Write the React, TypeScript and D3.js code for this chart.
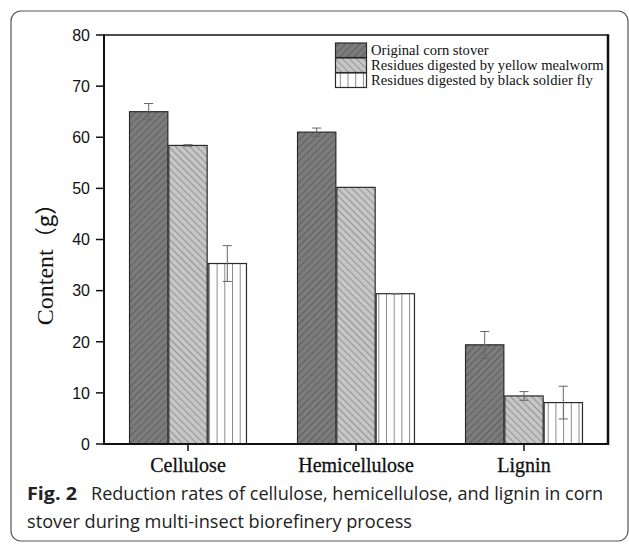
import React from "react";
import * as d3 from "d3";

const categories = ["Cellulose", "Hemicellulose", "Lignin"];
const seriesNames = [
  "Original corn stover",
  "Residues digested by yellow mealworm",
  "Residues digested by black soldier fly",
];
const originalValues = [65.0, 61.0, 19.4];
const mealwormValues = [58.4, 50.2, 9.4];
const soldierFlyValues = [35.3, 29.4, 8.1];
const originalErrors = [1.6, 0.8, 2.6];
const mealwormErrors = [0.15, 0, 0.85];
const soldierFlyErrors = [3.5, 0.05, 3.2];
const yTicks = [0, 10, 20, 30, 40, 50, 60, 70, 80];
const captionBold = "Fig. 2";
const captionLine1 = "Reduction rates of cellulose, hemicellulose, and lignin in corn";
const captionLine2 = "stover during multi-insect biorefinery process";

const W = 629;
const H = 544;
const left = 104;
const right = 608;
const top = 35;
const bottom = 444;

const seriesValues = [originalValues, mealwormValues, soldierFlyValues];
const seriesErrors = [originalErrors, mealwormErrors, soldierFlyErrors];
const patternIds = ["pat-orig", "pat-meal", "pat-fly"];

export default function App() {
  const x0 = d3.scaleBand<string>().domain(categories).range([left, right]).paddingInner(0.298).paddingOuter(0.149);
  const x1 = d3.scaleBand<string>().domain(seriesNames).range([0, x0.bandwidth()]).padding(0);
  const y = d3.scaleLinear().domain([0, 80]).range([bottom, top]);

  const serif = "'Liberation Serif', 'Times New Roman', serif";
  const sans = "'Liberation Sans', Arial, sans-serif";
  const capFont = "'Open Sans', 'Noto Sans', sans-serif";

  return (
    <svg width={W} height={H} style={{ position: "absolute", left: 0, top: 0, background: "#fff" }}>
      <defs>
        <pattern id="pat-orig" patternUnits="userSpaceOnUse" width={5} height={5} patternTransform="rotate(45)">
          <rect width={5} height={5} fill="#7c7c7c" />
          <line x1={0} y1={0} x2={0} y2={5} stroke="#4a4a4a" strokeWidth={1.2} />
        </pattern>
        <pattern id="pat-meal" patternUnits="userSpaceOnUse" width={5} height={5} patternTransform="rotate(-45)">
          <rect width={5} height={5} fill="#c6c6c6" />
          <line x1={0} y1={0} x2={0} y2={5} stroke="#6a6a6a" strokeWidth={1.1} />
        </pattern>
        <pattern id="pat-fly" patternUnits="userSpaceOnUse" width={7.7} height={10} x={1}>
          <rect width={7.7} height={10} fill="#ffffff" />
          <line x1={0.5} y1={0} x2={0.5} y2={10} stroke="#8a8a8a" strokeWidth={1} />
        </pattern>
      </defs>

      {/* outer frame */}
      <rect x={11} y={11} width={617} height={530} rx={10} ry={10} fill="none" stroke="#555" strokeWidth={1.2} />

      {/* bars */}
      {categories.map((c, ci) => (
        <g key={c}>
          {seriesNames.map((s, si) => {
            const bx = (x0(c) as number) + (x1(s) as number);
            const bw = x1.bandwidth();
            const v = seriesValues[si][ci];
            return (
              <rect
                key={s}
                x={bx + 0.5}
                y={y(v)}
                width={bw - 1}
                height={bottom - y(v)}
                fill={`url(#${patternIds[si]})`}
                stroke="#2a2a2a"
                strokeWidth={1.2}
              />
            );
          })}
        </g>
      ))}

      {/* error bars */}
      {categories.map((c, ci) => (
        <g key={c + "-err"} stroke="#666" strokeWidth={1}>
          {seriesNames.map((s, si) => {
            const cx = (x0(c) as number) + (x1(s) as number) + x1.bandwidth() / 2;
            const v = seriesValues[si][ci];
            const e = seriesErrors[si][ci];
            if (e <= 0) return null;
            const yt = y(v + e);
            const yb = y(v - e);
            return (
              <g key={s}>
                <line x1={cx} x2={cx} y1={yt} y2={yb} />
                <line x1={cx - 4.5} x2={cx + 4.5} y1={yt} y2={yt} />
                <line x1={cx - 4.5} x2={cx + 4.5} y1={yb} y2={yb} />
              </g>
            );
          })}
        </g>
      ))}

      {/* plot frame */}
      <line x1={left} x2={right} y1={top} y2={top} stroke="#111" strokeWidth={1.5} />
      <line x1={right} x2={right} y1={top - 0.75} y2={bottom + 1} stroke="#111" strokeWidth={2.5} />
      <line x1={left} x2={left} y1={top - 0.75} y2={bottom + 1} stroke="#111" strokeWidth={2} />
      <line x1={left - 1} x2={right + 1} y1={bottom} y2={bottom} stroke="#111" strokeWidth={2} />

      {/* y ticks */}
      {yTicks.map((t) => (
        <g key={t}>
          <line x1={left - 8} x2={left} y1={y(t)} y2={y(t)} stroke="#111" strokeWidth={1.5} />
          <text x={90} y={y(t)} dy="0.36em" textAnchor="end" fontFamily={sans} fontSize={16} fill="#111">
            {t}
          </text>
        </g>
      ))}

      {/* x ticks */}
      {categories.map((c) => {
        const cx = (x0(c) as number) + x0.bandwidth() / 2;
        return (
          <g key={c + "-tick"}>
            <line x1={cx} x2={cx} y1={bottom} y2={bottom + 7} stroke="#111" strokeWidth={1.5} />
            <text x={cx} y={472} textAnchor="middle" fontFamily={serif} fontSize={20} fill="#111" stroke="#111" strokeWidth={0.3}>
              {c}
            </text>
          </g>
        );
      })}

      {/* y label */}
      <text
        transform="translate(53,259) rotate(-90)"
        textAnchor="middle"
        fontFamily={serif}
        fontSize={24}
        fill="#111"
      >
        Content
        <tspan fontFamily="'Noto Sans CJK SC', serif" fontSize={22}>（g）</tspan>
      </text>

      {/* legend */}
      {seriesNames.map((s, si) => (
        <g key={s + "-leg"}>
          <rect x={335.5} y={43 + si * 15} width={31} height={14.5} fill={`url(#${patternIds[si]})`} stroke="#2a2a2a" strokeWidth={1.2} />
          <text x={371} y={55 + si * 15} fontFamily={serif} fontSize={14.6} fill="#111">
            {s}
          </text>
        </g>
      ))}

      {/* caption */}
      <text x={27} y={500} fontFamily={capFont} fontSize={18} fontWeight="bold" fill="#222" textLength={50} lengthAdjust="spacingAndGlyphs">
        {captionBold}
      </text>
      <text x={91} y={500} fontFamily={capFont} fontSize={18} fill="#222" textLength={512} lengthAdjust="spacingAndGlyphs">
        {captionLine1}
      </text>
      <text x={27} y={528} fontFamily={capFont} fontSize={18} fill="#222" textLength={385} lengthAdjust="spacingAndGlyphs">
        {captionLine2}
      </text>
    </svg>
  );
}
